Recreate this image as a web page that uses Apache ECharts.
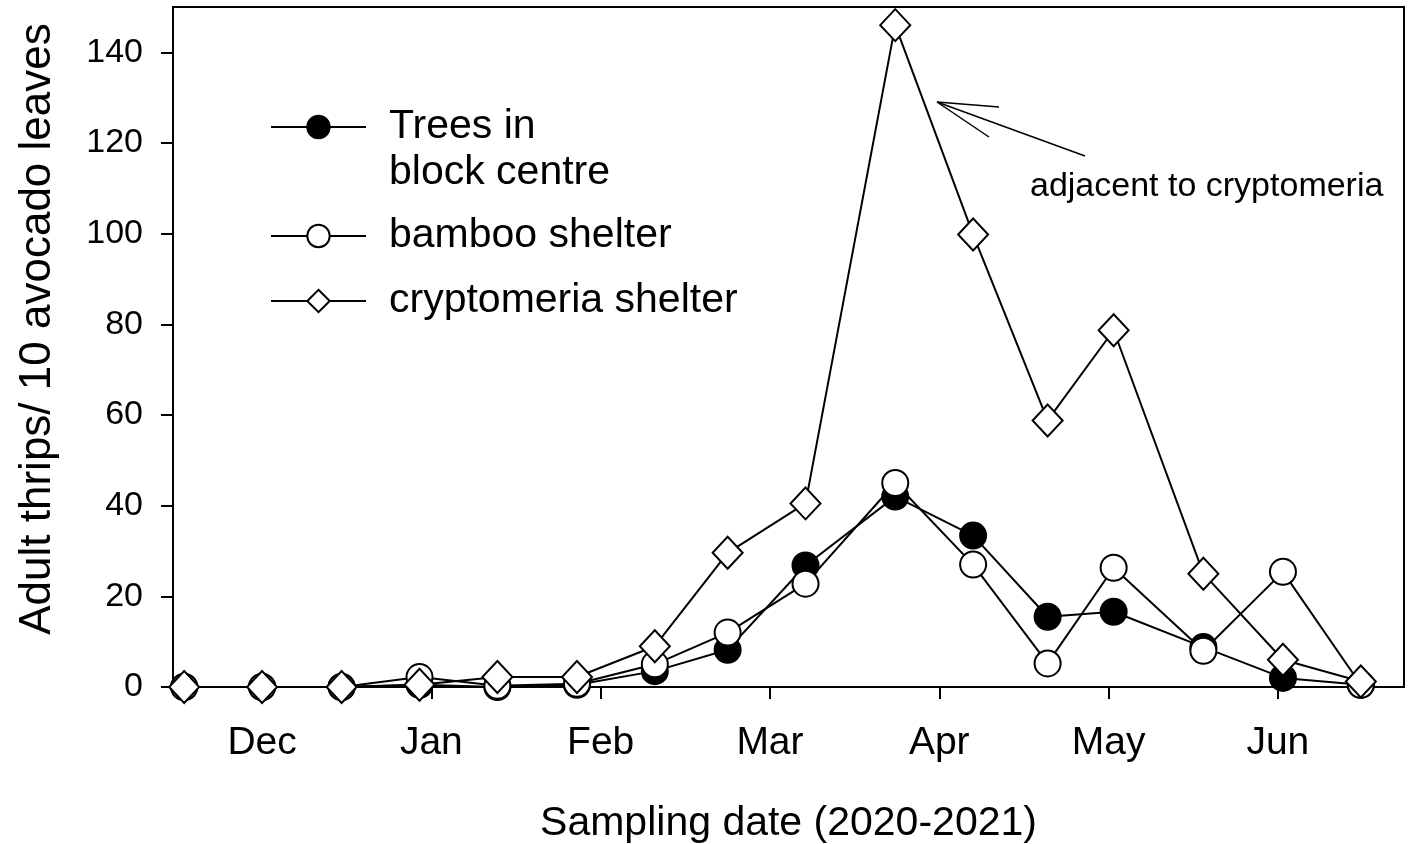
<!DOCTYPE html>
<html>
<head>
<meta charset="utf-8">
<title>Adult thrips</title>
<script src="https://cdn.jsdelivr.net/npm/echarts@6/dist/echarts.min.js"></script>
<style>
  html, body { margin: 0; padding: 0; background: #fff; }
  #chart { width: 1409px; height: 844px; }
</style>
</head>
<body>
<div id="chart"></div>
<script>
// sampling dates, in months after the Dec tick
var sampleX = [-0.46, 0, 0.47, 0.93, 1.39, 1.86, 2.32, 2.75, 3.21, 3.74, 4.2, 4.64, 5.03, 5.56, 6.03, 6.49];
var centreValues = [0, 0, 0, 0.5, 0, 0.5, 3.5, 8.2, 26.8, 42, 33.4, 15.5, 16.6, 8.8, 2, 0.5];
var bambooValues = [0, 0, 0, 2.2, 0.3, 0.7, 5, 12, 22.8, 45, 27, 5.2, 26.3, 8, 25.4, 0.5];
var cryptoValues = [0, 0, 0, 0.5, 2.2, 2.2, 9, 29.6, 40.5, 146, 99.8, 58.8, 78.7, 25, 6, 1.2];
var monthLabels = ['Dec', 'Jan', 'Feb', 'Mar', 'Apr', 'May', 'Jun'];
var monthTicks = [0, 1, 2, 3, 4, 5, 6];
var yTicks = [0, 20, 40, 60, 80, 100, 120, 140];

var FONT = 'Liberation Sans, Arial, sans-serif';

function pairs(values) {
  return values.map(function (v, i) { return [sampleX[i], v]; });
}

var chart = echarts.init(document.getElementById('chart'));

var legendBase = {
  orient: 'vertical',
  left: 270,
  padding: 0,
  itemWidth: 95,
  itemHeight: 28,
  textStyle: { fontFamily: FONT, fontSize: 41, color: '#000', lineHeight: 46, padding: [0, 0, 0, 18] }
};

function seriesOf(name, values, symbol, size, fill) {
  return {
    name: name,
    type: 'line',
    data: pairs(values),
    symbol: symbol,
    symbolSize: size,
    showAllSymbol: true,
    lineStyle: { color: '#000', width: 2 },
    itemStyle: { color: fill, borderColor: '#000', borderWidth: 2 },
    emphasis: { disabled: true },
    animation: false
  };
}

var option = {
  backgroundColor: '#fff',
  animation: false,
  grid: {
    left: 173, right: 5, top: 7, bottom: 157,
    outerBoundsMode: 'none',
    show: true, borderColor: '#000', borderWidth: 2
  },
  legend: [
    Object.assign({}, legendBase, {
      top: 58,
      data: ['Trees in\nblock centre'],
      // blank first line keeps the icon level with "Trees in"
      formatter: function (name) { return ' \n' + name; }
    }),
    Object.assign({}, legendBase, { top: 213, data: ['bamboo shelter'] }),
    Object.assign({}, legendBase, { top: 278, data: ['cryptomeria shelter'] })
  ],
  xAxis: {
    type: 'value',
    min: -0.526,
    max: 6.745,
    name: 'Sampling date (2020-2021)',
    nameLocation: 'middle',
    nameGap: 116,
    nameTextStyle: { fontFamily: FONT, fontSize: 41, color: '#000' },
    axisLine: { onZero: false, lineStyle: { color: '#000', width: 2 } },
    axisTick: { customValues: monthTicks, length: 12, lineStyle: { color: '#000', width: 2 } },
    axisLabel: {
      customValues: monthTicks,
      margin: 37,
      fontFamily: FONT, fontSize: 39, color: '#000',
      formatter: function (v) { return monthLabels[Math.round(v)]; }
    },
    splitLine: { show: false }
  },
  yAxis: {
    type: 'value',
    min: 0,
    max: 150,
    name: 'Adult thrips/ 10 avocado leaves',
    nameLocation: 'middle',
    nameGap: 113,
    nameTextStyle: { fontFamily: FONT, fontSize: 44, color: '#000', padding: [0, 0, 0, 36] },
    axisLine: { onZero: false, lineStyle: { color: '#000', width: 2 } },
    axisTick: { customValues: yTicks, length: 12, lineStyle: { color: '#000', width: 2 } },
    axisLabel: {
      customValues: yTicks,
      margin: 30,
      fontFamily: FONT, fontSize: 34, color: '#000'
    },
    splitLine: { show: false }
  },
  series: [
    seriesOf('Trees in\nblock centre', centreValues, 'circle', 26, '#000'),
    seriesOf('bamboo shelter', bambooValues, 'circle', 26, '#fff'),
    seriesOf('cryptomeria shelter', cryptoValues, 'diamond', [30, 32], '#fff')
  ],
  graphic: [
    { type: 'text', left: 1030, top: 170, style: { text: 'adjacent to cryptomeria', font: '34px ' + FONT, fill: '#000' } },
    { type: 'line', shape: { x1: 1085, y1: 156, x2: 937, y2: 102 }, style: { stroke: '#000', lineWidth: 1.5 } },
    { type: 'line', shape: { x1: 937, y1: 102, x2: 999, y2: 107 }, style: { stroke: '#000', lineWidth: 1.5 } },
    { type: 'line', shape: { x1: 937, y1: 102, x2: 989, y2: 137 }, style: { stroke: '#000', lineWidth: 1.5 } }
  ]
};

chart.setOption(option);
window.addEventListener('resize', function () { chart.resize(); });
</script>
</body>
</html>
